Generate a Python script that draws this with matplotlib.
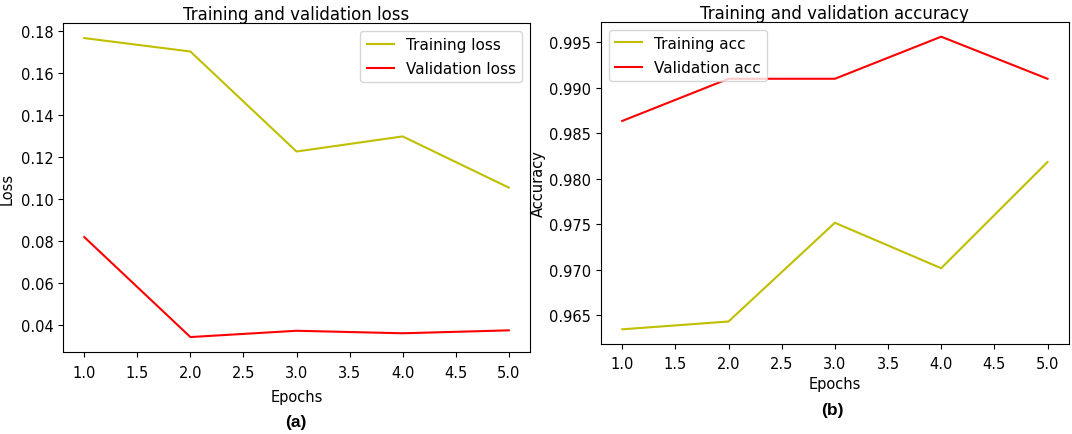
import matplotlib
matplotlib.use('Agg')
import matplotlib.pyplot as plt

epochs = [1, 2, 3, 4, 5]
train_loss = [0.1767, 0.1703, 0.1226, 0.1298, 0.1054]
val_loss = [0.0818, 0.0341, 0.0371, 0.0359, 0.0373]
train_acc = [0.96346, 0.96432, 0.97516, 0.97017, 0.98183]
val_acc = [0.98634, 0.99097, 0.99097, 0.99559, 0.99097]

fs = 10.5
fig = plt.figure(figsize=(10.72, 4.35), dpi=100)

# left panel: loss
ax1 = fig.add_axes([0.0588, 0.1885, 0.4356, 0.756])
ax1.plot(epochs, train_loss, color='y', label='Training loss')
ax1.plot(epochs, val_loss, color='r', label='Validation loss')
ax1.set_title('Training and validation loss', fontsize=12, pad=3)
ax1.set_xlabel('Epochs', fontsize=fs, labelpad=6)
ax1.set_ylabel('Loss', fontsize=fs)
ax1.tick_params(labelsize=fs)
ax1.tick_params(axis='x', pad=6)
ax1.legend(loc='upper right', fontsize=11, handlelength=1.8, labelspacing=0.6)

# right panel: accuracy
ax2 = fig.add_axes([0.5606, 0.207, 0.4364, 0.740])
ax2.plot(epochs, train_acc, color='y', label='Training acc')
ax2.plot(epochs, val_acc, color='r', label='Validation acc')
ax2.set_title('Training and validation accuracy', fontsize=12, pad=3)
ax2.set_xlabel('Epochs', fontsize=fs, labelpad=4)
ax2.set_ylabel('Accuracy', fontsize=fs, labelpad=2)
ax2.tick_params(labelsize=fs)
ax2.tick_params(axis='x', pad=5)
ax2.legend(loc='upper left', fontsize=11, handlelength=1.8, labelspacing=0.6)

fig.text(296 / 1072, 1 - 423 / 435, '(a)', ha='center', va='center',
         fontsize=12.5, fontweight='bold', family='Liberation Sans')
fig.text(832 / 1072, 1 - 411 / 435, '(b)', ha='center', va='center',
         fontsize=12.5, fontweight='bold', family='Liberation Sans')

fig.savefig('out.png', dpi=100)
